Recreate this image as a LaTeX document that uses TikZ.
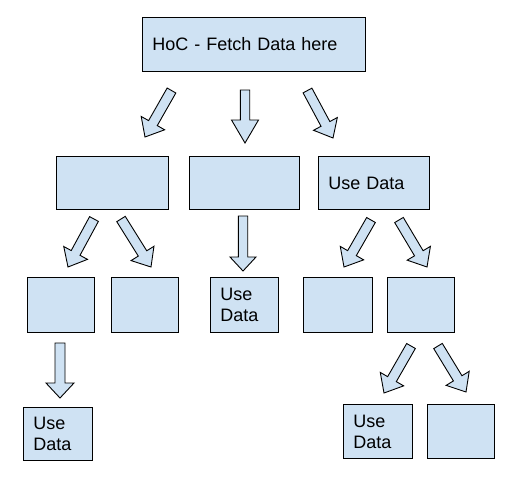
\documentclass[tikz,border=0pt]{standalone}
\usepackage{fontspec}
\setmainfont{Liberation Sans}
\usetikzlibrary{calc}
\definecolor{boxblue}{HTML}{CFE2F3}
\tikzset{
  box/.style={draw=black, fill=boxblue, line width=0.9pt, rectangle, anchor=north west,
    inner xsep=10pt, inner ysep=0pt, align=left, font=\fontsize{18}{21}\selectfont},
  barrow/.style={draw=black, fill=boxblue, line width=0.9pt, line join=miter}
}
\newcommand\blockarrow[5]{%
  \coordinate (ab) at ($(#2)!#5!(#1)$);
  \draw[barrow] ($(#1)!#3!90:(#2)$) -- ($(ab)!#3!90:(#2)$) -- ($(ab)!#4!90:(#2)$) -- (#2)
    -- ($(ab)!#4!-90:(#2)$) -- ($(ab)!#3!-90:(#2)$) -- ($(#1)!#3!-90:(#2)$) -- cycle;}
\begin{document}
\begin{tikzpicture}[x=1pt,y=-1pt]
\useasboundingbox (0,0) rectangle (516,480);
% boxes
\node[box, minimum width=223pt, minimum height=54pt, text width=203pt] (top) at (142,17) {HoC - Fetch Data here};
\node[box, minimum width=112pt, minimum height=53pt, text width=92pt] (r2a) at (56,156) {};
\node[box, minimum width=110pt, minimum height=53pt, text width=90pt] (r2b) at (189,156) {};
\node[box, minimum width=111pt, minimum height=53pt, text width=91pt] (r2c) at (318,156) {Use Data};
\node[box, minimum width=67pt, minimum height=55pt, text width=47pt] (r3a) at (27,277) {};
\node[box, minimum width=67pt, minimum height=55pt, text width=47pt] (r3b) at (111,277) {};
\node[box, minimum width=68pt, minimum height=55pt, text width=48pt] (r3c) at (210,277) {Use\\Data};
\node[box, minimum width=69pt, minimum height=55pt, text width=49pt] (r3d) at (303,277) {};
\node[box, minimum width=67pt, minimum height=55pt, text width=47pt] (r3e) at (387,277) {};
\node[box, minimum width=69pt, minimum height=53pt, text width=49pt] (r4a) at (23,407) {Use\\Data};
\node[box, minimum width=69pt, minimum height=54pt, text width=49pt] (r4b) at (343,404) {Use\\Data};
\node[box, minimum width=67pt, minimum height=54pt, text width=47pt] (r4c) at (427,404) {};
% arrow end points
\coordinate (a1t) at (171.5,90.5); \coordinate (a1h) at (145,137);
\coordinate (a2t) at (245,90);    \coordinate (a2h) at (245,143);
\coordinate (a3t) at (307.5,90.5); \coordinate (a3h) at (333,138);
\coordinate (b1t) at (94,219);    \coordinate (b1h) at (68,267);
\coordinate (b2t) at (121,219);   \coordinate (b2h) at (151,267);
\coordinate (b3t) at (243,216);   \coordinate (b3h) at (243,271);
\coordinate (b4t) at (371,220);   \coordinate (b4h) at (344,267);
\coordinate (b5t) at (399,220);   \coordinate (b5h) at (427,267);
\coordinate (c1t) at (60,343);    \coordinate (c1h) at (60,398);
\coordinate (c2t) at (411,346);   \coordinate (c2h) at (384,393);
\coordinate (c3t) at (438,346);   \coordinate (c3h) at (466,392);
% arrows
\blockarrow{a1t}{a1h}{5pt}{13.5pt}{16pt}
\blockarrow{a2t}{a2h}{4.7pt}{13.5pt}{23pt}
\blockarrow{a3t}{a3h}{5pt}{13.5pt}{16pt}
\blockarrow{b1t}{b1h}{5pt}{13.5pt}{16pt}
\blockarrow{b2t}{b2h}{5pt}{13.5pt}{16pt}
\blockarrow{b3t}{b3h}{4.7pt}{13pt}{14pt}
\blockarrow{b4t}{b4h}{5pt}{13.5pt}{16pt}
\blockarrow{b5t}{b5h}{5pt}{13.5pt}{16pt}
\blockarrow{c1t}{c1h}{5pt}{14pt}{15pt}
\blockarrow{c2t}{c2h}{5pt}{13.5pt}{16pt}
\blockarrow{c3t}{c3h}{5pt}{13.5pt}{16pt}
\end{tikzpicture}
\end{document}
